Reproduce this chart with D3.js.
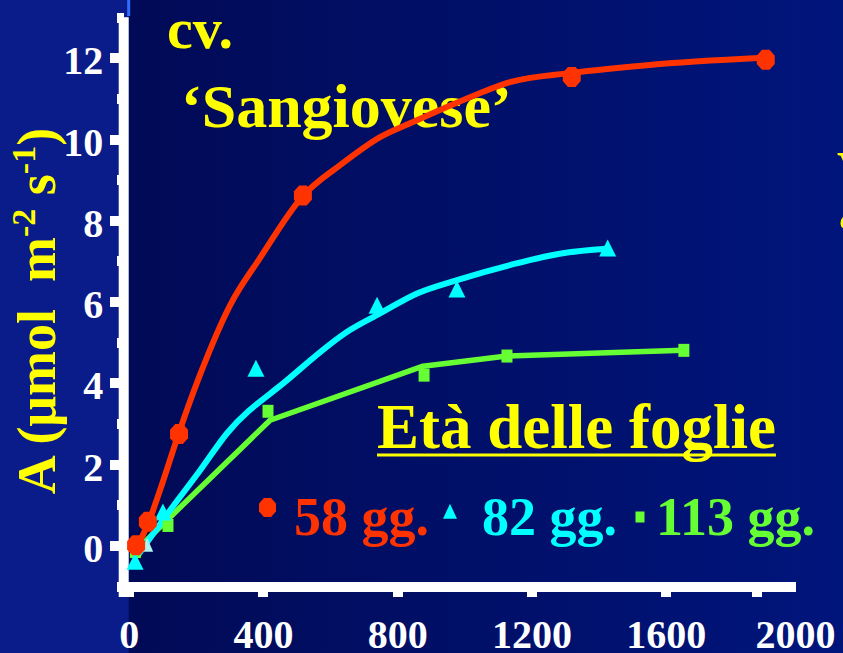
<!DOCTYPE html>
<html>
<head>
<meta charset="utf-8">
<script src="https://cdn.jsdelivr.net/npm/d3@7"></script>
<style>
  html, body { margin: 0; padding: 0; background: #0a1b8a; }
  svg { display: block; }
  text { font-family: "Liberation Serif", "Times New Roman", serif; font-weight: bold; }
</style>
</head>
<body>
<svg id="chart" width="843" height="653"></svg>
<script>
// Light intensity (PPFD, µmol m-2 s-1) on x, net assimilation A on y
const xTickLabels = [0, 400, 800, 1200, 1600, 2000];
const xTickMarks = [0, 400, 800, 1200, 1600, 1870];
const yMajorTicks = [0, 2, 4, 6, 8, 10, 12];
const yMinorTicks = [-1, 1, 3, 5, 7, 9, 11, 13];

// Measured points per leaf age: [PPFD, A]
const leaf58 = [[22, 0], [57, 0.58], [150, 2.74], [519, 8.61], [1320, 11.53], [1898, 11.95]];
const leaf82 = [[19, -0.41], [102, 0.8], [379, 4.34], [740, 5.89], [978, 6.29], [1427, 7.3]];
const leaf82Extra = [[55, 0]];
const leaf113 = [[20, -0.15], [117, 0.49], [415, 3.3], [880, 4.19], [1127, 4.66], [1654, 4.8]];

// Fitted response curves
const fit58 = [[22, -0.07], [57, 0.52], [93, 1.35], [150, 2.78], [212, 4.19], [302, 5.91], [391, 7.07],
  [519, 8.6], [630, 9.36], [749, 10.05], [847, 10.42], [948, 10.79], [1046, 11.13], [1136, 11.4],
  [1321, 11.63], [1544, 11.82], [1890, 12.0]];
const fit82 = [[25, -0.27], [123, 0.86], [213, 1.85], [293, 2.76], [471, 4.06], [659, 5.3], [749, 5.71],
  [859, 6.2], [978, 6.53], [1136, 6.9], [1293, 7.19], [1424, 7.3]];
const fit113 = [[13, -0.2], [114, 0.62], [421, 3.08], [877, 4.41], [1127, 4.66], [1651, 4.8]];

const legendLabels = ["58 gg.", "82 gg.", "113 gg."];
const colors = { red: "#ff3300", cyan: "#00ffff", green: "#66ff33", yellow: "#ffff00" };

const svg = d3.select("#chart");
const W = 843, H = 653;

const x = d3.scaleLinear().domain([0, 2000]).range([128.7, 800]);
const y = d3.scaleLinear().domain([-1, 13]).range([586, 17.2]);

// Background: lighter strip at left, dark gradient panel to the right
const defs = svg.append("defs");
const grad = defs.append("linearGradient").attr("id", "bg").attr("x1", "0").attr("x2", "1").attr("y1", "0").attr("y2", "0");
grad.append("stop").attr("offset", "0").attr("stop-color", "#010a56");
grad.append("stop").attr("offset", "1").attr("stop-color", "#00157c");
svg.append("rect").attr("width", W).attr("height", H).attr("fill", "#0a1b8a");
svg.append("rect").attr("x", x(0)).attr("y", 0).attr("width", W - x(0)).attr("height", H).attr("fill", "url(#bg)");
svg.append("line").attr("x1", x(0)).attr("x2", x(0)).attr("y1", 0).attr("y2", 16)
  .attr("stroke", "#2f6cff").attr("stroke-width", 3);

// Title
const title = svg.append("g").attr("fill", colors.yellow);
title.append("text").attr("x", 167).attr("y", 48).style("font-size", "58px").text("cv.");
title.append("text").attr("x", 181).attr("y", 127).style("font-size", "62px").text("\u2018Sangiovese\u2019");
// text continuing past the right edge
title.append("text").attr("x", 837).attr("y", 191).style("font-size", "58px").text("V");
title.append("text").attr("x", 836).attr("y", 250).style("font-size", "58px").text("\u2018");

// Y axis
const axisX = x(0) - 5;
svg.append("rect").attr("x", axisX - 5).attr("y", y(13)).attr("width", 10).attr("height", 597 - y(13)).attr("fill", "#fff");
const yMinor = svg.append("g").attr("transform", `translate(${axisX},0)`)
  .call(d3.axisLeft(y).tickValues(yMinorTicks).tickSize(7).tickSizeOuter(0).tickFormat(""));
const yMajor = svg.append("g").attr("transform", `translate(${axisX},0)`)
  .call(d3.axisLeft(y).tickValues(yMajorTicks).tickSize(14).tickSizeOuter(0).tickPadding(6.5));
[yMinor, yMajor].forEach(g => {
  g.select(".domain").remove();
  g.selectAll(".tick line").attr("stroke", "#fff").attr("stroke-width", 10).attr("shape-rendering", "crispEdges");
});
yMajor.selectAll(".tick text").attr("fill", "#fff").style("font-size", "40px")
  .style("font-family", "Liberation Serif").attr("dy", "0.4em");

// X axis
svg.append("rect").attr("x", 117).attr("y", 582).attr("width", 796 - 117).attr("height", 10).attr("fill", "#fff");
const xMarks = svg.append("g").attr("transform", "translate(0,587)")
  .call(d3.axisBottom(x).tickValues(xTickMarks).tickSize(10).tickSizeOuter(0).tickFormat(""));
xMarks.select(".domain").remove();
xMarks.selectAll(".tick line").attr("stroke", "#fff").attr("stroke-width", 10).attr("shape-rendering", "crispEdges");
const xLabels = svg.append("g").attr("transform", "translate(0,587)")
  .call(d3.axisBottom(x).tickValues(xTickLabels).tickFormat(d3.format("d")).tickSize(0).tickSizeOuter(0).tickPadding(33));
xLabels.select(".domain").remove();
xLabels.selectAll(".tick text").attr("fill", "#fff").style("font-size", "40px")
  .style("font-family", "Liberation Serif").attr("dy", "0.71em");
xLabels.selectAll(".tick").filter(d => d === 2000).select("text").attr("dx", -5);

// Y axis title
const yt = svg.append("text").attr("transform", "translate(55,311) rotate(-90)")
  .attr("text-anchor", "middle").attr("fill", colors.yellow).style("font-size", "54px").style("white-space", "pre");
yt.append("tspan").text("A (\u03bcmol  m");
yt.append("tspan").attr("dy", -20).style("font-size", "34px").text("-2");
yt.append("tspan").attr("dy", 20).text(" s");
yt.append("tspan").attr("dy", -20).style("font-size", "34px").text("-1");
yt.append("tspan").attr("dy", 20).text(")");

// Legend
const lt = svg.append("text").attr("x", 377).attr("y", 448).attr("fill", colors.yellow)
  .style("font-size", "63px").text("Et\u00e0 delle foglie");
const ltLen = lt.node().getComputedTextLength();
svg.append("rect").attr("x", 377).attr("y", 453.5).attr("width", ltLen).attr("height", 3).attr("fill", colors.yellow);

// Marker shapes
function octagon(w, h) {
  const a = w / 2, b = h / 2, ca = a * 0.42, cb = b * 0.42;
  return `M${-ca},${-b}L${ca},${-b}L${a},${-cb}L${a},${cb}L${ca},${b}L${-ca},${b}L${-a},${cb}L${-a},${-cb}Z`;
}
function triangle(w, h) {
  return `M0,${-h * 0.55}L${w / 2},${h * 0.45}L${-w / 2},${h * 0.45}Z`;
}
function square(w, h) {
  return `M${-w / 2},${-h / 2}h${w}v${h}h${-w}Z`;
}

const legendItems = [
  { label: legendLabels[0], color: colors.red, shape: octagon(17, 19), mx: 267.5, my: 507.5, tx: 294 },
  { label: legendLabels[1], color: colors.cyan, shape: triangle(14, 15), mx: 450, my: 512, tx: 482 },
  { label: legendLabels[2], color: colors.green, shape: square(9, 11), mx: 640, my: 517, tx: 656 }
];
legendItems.forEach(d => {
  svg.append("path").attr("d", d.shape).attr("transform", `translate(${d.mx},${d.my})`).attr("fill", d.color);
  svg.append("text").attr("x", d.tx).attr("y", 535).attr("fill", d.color).style("font-size", "54px").text(d.label);
});

// Curves
const smooth = d3.line().x(d => x(d[0])).y(d => y(d[1])).curve(d3.curveMonotoneX);
const straight = d3.line().x(d => x(d[0])).y(d => y(d[1]));
const plot = svg.append("g");
plot.append("path").datum(fit113).attr("d", straight).attr("fill", "none").attr("stroke", colors.green)
  .attr("stroke-width", 5.5).attr("stroke-linejoin", "round");
plot.append("path").datum(fit82).attr("d", smooth).attr("fill", "none").attr("stroke", colors.cyan)
  .attr("stroke-width", 6).attr("stroke-linejoin", "round");
plot.append("path").datum(fit58).attr("d", smooth).attr("fill", "none").attr("stroke", colors.red)
  .attr("stroke-width", 6).attr("stroke-linejoin", "round");

// Markers
plot.selectAll(".m113").data(leaf113).join("path").attr("class", "m113")
  .attr("d", square(11, 13)).attr("transform", d => `translate(${x(d[0])},${y(d[1])})`).attr("fill", colors.green);
plot.selectAll(".m82").data(leaf82).join("path").attr("class", "m82")
  .attr("d", triangle(17, 17)).attr("transform", d => `translate(${x(d[0])},${y(d[1])})`).attr("fill", colors.cyan);
plot.selectAll(".m82x").data(leaf82Extra).join("path").attr("class", "m82x")
  .attr("d", triangle(12, 14)).attr("transform", d => `translate(${x(d[0])},${y(d[1])})`).attr("fill", "#aef3f0");
plot.selectAll(".m58").data(leaf58).join("path").attr("class", "m58")
  .attr("d", octagon(18, 20)).attr("transform", d => `translate(${x(d[0])},${y(d[1])})`).attr("fill", colors.red);
</script>
</body>
</html>
